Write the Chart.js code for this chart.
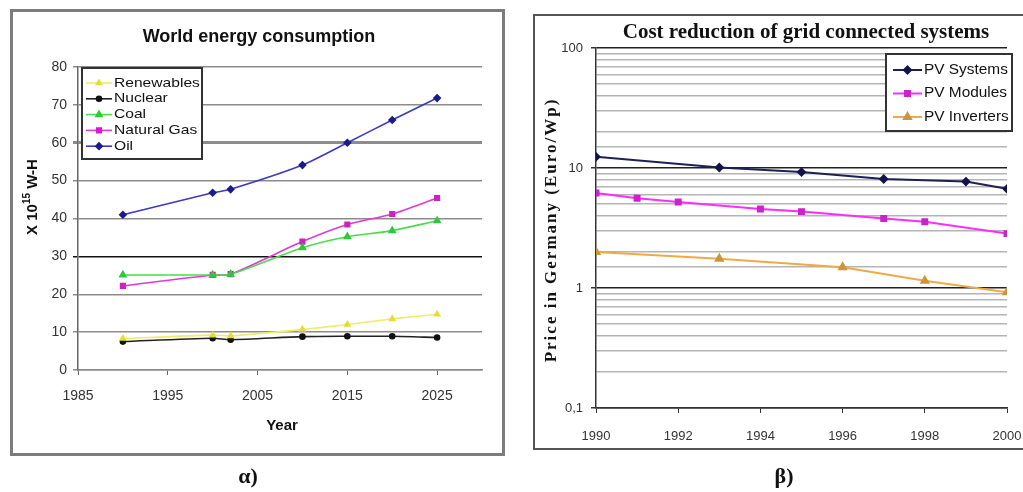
<!DOCTYPE html>
<html>
<head>
<meta charset="utf-8">
<script src="https://cdn.jsdelivr.net/npm/chart.js@4/dist/chart.umd.min.js"></script>
<style>
  html, body { margin: 0; padding: 0; background: #fff; width: 1023px; height: 492px; overflow: hidden; position: relative; }
  .frame { position: absolute; box-sizing: border-box; }
  #frameA { left: 10px; top: 9px; width: 495px; height: 447px; border: 3px solid #7c7c7c; }
  #frameB { left: 533px; top: 14px; width: 520px; height: 436px; border: 2px solid #555; }
  canvas { position: absolute; top: 0; }
  #chartA { left: 0; }
  #chartB { left: 510px; }
</style>
</head>
<body>
<div class="frame" id="frameA"></div>
<div class="frame" id="frameB"></div>
<canvas id="chartA" width="510" height="492"></canvas>
<canvas id="chartB" width="545" height="492"></canvas>
<script>
// ---------- Data: World energy consumption (x 10^15 W-H) ----------
const consYears = [1990, 2000, 2002, 2010, 2015, 2020, 2025];
const renewables = [8.3, 9.2, 9.0, 10.7, 12.0, 13.5, 14.7];
const nuclear = [7.5, 8.4, 8.0, 8.8, 8.9, 8.9, 8.6];
const coal = [25.1, 25.1, 25.3, 32.3, 35.2, 36.8, 39.4];
const naturalGas = [22.2, 25.1, 25.3, 33.9, 38.4, 41.2, 45.4];
const oil = [41.0, 46.8, 47.7, 54.1, 60.0, 66.0, 71.8];
const consYearTicks = [1985, 1995, 2005, 2015, 2025];

// ---------- Data: Cost reduction of grid connected systems (Euro/Wp) ----------
const systemsYears = [1990, 1993, 1995, 1997, 1999, 2000];
const pvSystems = [12.4, 10.1, 9.25, 8.1, 7.7, 6.7];
const modulesYears = [1990, 1991, 1992, 1994, 1995, 1997, 1998, 2000];
const pvModules = [6.2, 5.6, 5.2, 4.55, 4.33, 3.8, 3.56, 2.84];
const invertersYears = [1990, 1993, 1996, 1998, 2000];
const pvInverters = [2.0, 1.75, 1.49, 1.15, 0.92];
const pvYearTicks = [1990, 1992, 1994, 1996, 1998, 2000];
const priceTickValues = [0.1, 1, 10, 100];
const priceTickLabels = ['0,1', '1', '10', '100'];

const pts = (xs, ys) => xs.map((x, i) => ({ x: x, y: ys[i] }));

// ---------- Plugins ----------
const textPlugin = {
  id: 'texts',
  afterDraw(chart, args, opts) {
    const ctx = chart.ctx;
    (opts.items || []).forEach(it => {
      ctx.save();
      ctx.translate(it.x, it.y);
      if (it.rotate) ctx.rotate(it.rotate);
      ctx.fillStyle = it.color || '#111';
      ctx.textBaseline = 'middle';
      ctx.textAlign = 'left';
      if ('letterSpacing' in ctx) ctx.letterSpacing = it.spacing || '0px';
      const segs = it.segments || [{ text: it.text, font: it.font, dy: 0 }];
      let total = 0;
      segs.forEach(s => { ctx.font = s.font; total += ctx.measureText(s.text).width; });
      let x = -total / 2;
      segs.forEach(s => {
        ctx.font = s.font;
        ctx.fillText(s.text, x, s.dy || 0);
        x += ctx.measureText(s.text).width;
      });
      ctx.restore();
    });
  }
};

const boxLegend = {
  id: 'boxLegend',
  afterDraw(chart, args, o) {
    if (!o || !o.w) return;
    const ctx = chart.ctx;
    ctx.save();
    ctx.fillStyle = '#fff';
    ctx.fillRect(o.x, o.y, o.w, o.h);
    ctx.strokeStyle = o.borderColor;
    ctx.lineWidth = o.borderWidth;
    ctx.strokeRect(o.x, o.y, o.w, o.h);
    chart.data.datasets.forEach((d, i) => {
      const cy = o.y + o.first + i * o.step;
      ctx.strokeStyle = d.borderColor;
      ctx.lineWidth = d.borderWidth;
      ctx.beginPath();
      ctx.moveTo(o.x + o.line0, cy);
      ctx.lineTo(o.x + o.line1, cy);
      ctx.stroke();
      ctx.fillStyle = d.pointBackgroundColor;
      ctx.strokeStyle = d.pointBorderColor;
      Chart.helpers.drawPoint(ctx, { pointStyle: d.pointStyle, radius: d.pointRadius, borderWidth: 1, rotation: 0 },
        o.x + (o.line0 + o.line1) / 2, cy);
      ctx.save();
      ctx.translate(o.x + o.textX, cy);
      ctx.scale(o.scaleX || 1, 1);
      ctx.fillStyle = '#111';
      ctx.font = o.font;
      ctx.textAlign = 'left';
      ctx.textBaseline = 'middle';
      ctx.fillText(d.label, 0, 0);
      ctx.restore();
    });
    ctx.restore();
  }
};

Chart.register(textPlugin, boxLegend);

function series(label, xs, ys, line, point, style, radius, width, tension) {
  return {
    label: label,
    data: pts(xs, ys),
    borderColor: line,
    backgroundColor: line,
    pointBackgroundColor: point,
    pointBorderColor: point,
    pointStyle: style,
    pointRadius: radius,
    borderWidth: width,
    tension: tension,
    fill: false
  };
}

// ---------- Chart α ----------
new Chart(document.getElementById('chartA'), {
  type: 'line',
  data: {
    datasets: [
      series('Renewables', consYears, renewables, '#f0ec6a', '#e4dc3c', 'triangle', 3, 1.6, 0.25),
      series('Nuclear', consYears, nuclear, '#222222', '#111111', 'circle', 2.5, 1.6, 0.25),
      series('Coal', consYears, coal, '#4bdc4b', '#2ec83e', 'triangle', 3.5, 1.6, 0.25),
      series('Natural Gas', consYears, naturalGas, '#e038d8', '#d020c4', 'rect', 3.2, 1.6, 0.25),
      series('Oil', consYears, oil, '#3a3ac6', '#1c1c88', 'rectRot', 3.2, 1.6, 0.25)
    ]
  },
  options: {
    responsive: false,
    animation: false,
    layout: { padding: { left: 10, right: 28, top: 67, bottom: 0 } },
    plugins: {
      legend: { display: false },
      tooltip: { enabled: false },
      boxLegend: { x: 82, y: 68, w: 120, h: 91, first: 15, step: 15.8, line0: 4, line1: 30, textX: 32,
        font: '13px "Liberation Sans", Arial, sans-serif', scaleX: 1.2, borderColor: '#333', borderWidth: 2 },
      texts: { items: [
        { text: 'World energy consumption', x: 259, y: 37, font: 'bold 18px "Liberation Sans", Arial, sans-serif' },
        { x: 33, y: 197, rotate: -Math.PI / 2, segments: [
          { text: 'X 10', font: 'bold 15px "Liberation Sans", Arial, sans-serif' },
          { text: '15', font: 'bold 10px "Liberation Sans", Arial, sans-serif', dy: -6 },
          { text: ' W-H', font: 'bold 15px "Liberation Sans", Arial, sans-serif' }
        ] },
        { text: 'Year', x: 282, y: 426, font: 'bold 15px "Liberation Sans", Arial, sans-serif' },
        { text: 'α)', x: 248, y: 477, font: 'bold 22px "Liberation Serif", "Times New Roman", serif' }
      ] }
    },
    scales: {
      x: {
        type: 'linear', min: 1985, max: 2030,
        afterBuildTicks: s => { s.ticks = consYearTicks.map(v => ({ value: v })); },
        afterFit: s => { s.height = 122; },
        grid: { display: true, drawOnChartArea: false, tickLength: 5, color: '#666' },
        border: { display: true, color: '#8a8a8a', width: 1.5 },
        ticks: { padding: 13, color: '#333', font: { family: '"Liberation Sans", Arial, sans-serif', size: 14 },
          callback: v => String(v), maxRotation: 0 }
      },
      y: {
        type: 'linear', min: 0, max: 80,
        afterFit: s => { s.width = 68; },
        grid: {
          tickLength: 5,
          color: c => (c.tick && c.tick.value === 30) ? '#111' : '#8c8c8c',
          lineWidth: c => (c.tick && c.tick.value === 60) ? 3 : 1.5
        },
        border: { display: true, color: '#666', width: 1.5 },
        ticks: { stepSize: 10, padding: 6, color: '#333', font: { family: '"Liberation Sans", Arial, sans-serif', size: 14 } }
      }
    }
  }
});

// ---------- Chart β ----------
const isMajor = v => Math.abs(Math.log10(v) - Math.round(Math.log10(v))) < 1e-9;
new Chart(document.getElementById('chartB'), {
  type: 'line',
  data: {
    datasets: [
      series('PV Systems', systemsYears, pvSystems, '#1f1f58', '#14144a', 'rectRot', 3.5, 2, 0),
      series('PV Modules', modulesYears, pvModules, '#ff2cff', '#cc22cc', 'rect', 3.5, 2, 0),
      series('PV Inverters', invertersYears, pvInverters, '#f0aa44', '#c8963c', 'triangle', 4, 2, 0)
    ]
  },
  options: {
    responsive: false,
    animation: false,
    layout: { padding: { left: 0, right: 48, top: 48, bottom: 0 } },
    plugins: {
      legend: { display: false },
      tooltip: { enabled: false },
      boxLegend: { x: 376, y: 54, w: 126, h: 77, first: 16, step: 23.5, line0: 7, line1: 36, textX: 38,
        font: '14px "Liberation Sans", Arial, sans-serif', scaleX: 1.1, borderColor: '#333', borderWidth: 2 },
      texts: { items: [
        { text: 'Cost reduction of grid connected systems', x: 296, y: 33, font: 'bold 21px "Liberation Serif", "Times New Roman", serif' },
        { text: 'Price in Germany (Euro/Wp)', x: 42, y: 230, rotate: -Math.PI / 2, spacing: '2px',
          font: 'bold 17px "Liberation Serif", "Times New Roman", serif' },
        { text: 'β)', x: 274, y: 477, font: 'bold 22px "Liberation Serif", "Times New Roman", serif' }
      ] }
    },
    scales: {
      x: {
        type: 'linear', min: 1990, max: 2000,
        afterBuildTicks: s => { s.ticks = pvYearTicks.map(v => ({ value: v })); },
        afterFit: s => { s.height = 84; },
        grid: { display: true, drawOnChartArea: false, tickLength: 5, color: '#333' },
        border: { display: true, color: '#333', width: 1.5 },
        ticks: { padding: 16, color: '#333', font: { family: '"Liberation Sans", Arial, sans-serif', size: 13 },
          callback: v => String(v), maxRotation: 0 }
      },
      y: {
        type: 'logarithmic', min: 0.1, max: 100,
        afterFit: s => { s.width = 86; },
        grid: {
          tickLength: 5,
          color: c => (c.tick && isMajor(c.tick.value)) ? '#222' : '#b4b4b4',
          tickColor: c => (c.tick && isMajor(c.tick.value)) ? '#333' : 'rgba(0,0,0,0)',
          lineWidth: 1.5
        },
        border: { display: true, color: '#333', width: 1.5 },
        ticks: {
          autoSkip: false, padding: 8, color: '#333',
          font: { family: '"Liberation Sans", Arial, sans-serif', size: 13 },
          callback: v => {
            const i = priceTickValues.findIndex(p => Math.abs(p - v) < 1e-9 * Math.max(1, p));
            return i >= 0 ? priceTickLabels[i] : '';
          }
        }
      }
    }
  }
});
</script>
</body>
</html>
